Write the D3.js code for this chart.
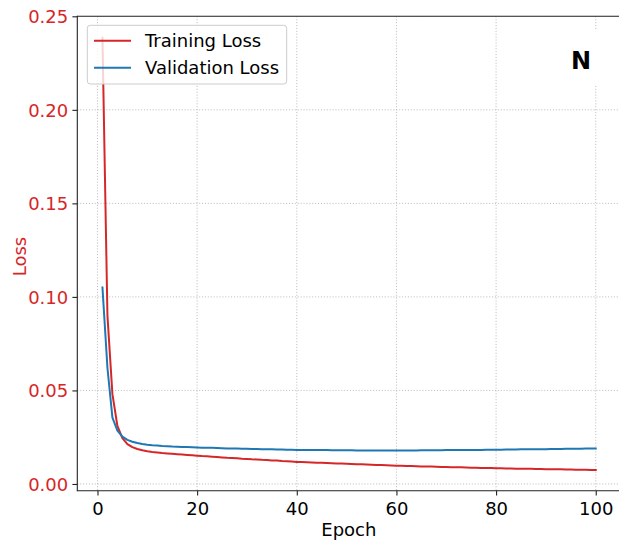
<!DOCTYPE html>
<html>
<head>
<meta charset="utf-8">
<script src="https://cdn.jsdelivr.net/npm/d3@7"></script>
<style>
  html, body { margin: 0; padding: 0; background: #fff; }
  svg { display: block; }
  text { font-family: "DejaVu Sans", sans-serif; }
</style>
</head>
<body>
<svg id="chart" width="619" height="547"></svg>
<script>
// Per-epoch losses, epochs 1..100
const epochs = d3.range(1, 101);

const trainingLoss = [
  0.2385, 0.0900, 0.0480, 0.0310, 0.0245, 0.0213, 0.0197, 0.0187, 0.0180, 0.0175,
  0.0171, 0.0168, 0.0165, 0.0163, 0.0161, 0.0159, 0.0157, 0.0155, 0.0153, 0.0151,
  0.0149, 0.0148, 0.0146, 0.0144, 0.0142, 0.0140, 0.0139, 0.0137, 0.0135, 0.0134,
  0.0132, 0.0131, 0.0129, 0.0128, 0.0126, 0.0125, 0.0123, 0.0122, 0.0120, 0.0118,
  0.0117, 0.0116, 0.0115, 0.0114, 0.0113, 0.0112, 0.0111, 0.0110, 0.0109, 0.0108,
  0.0107, 0.0106, 0.0105, 0.0104, 0.0103, 0.0102, 0.0101, 0.0100, 0.0099, 0.0098,
  0.0097, 0.0096, 0.0096, 0.0095, 0.0094, 0.0094, 0.0093, 0.0092, 0.0091, 0.0091,
  0.0090, 0.0089, 0.0089, 0.0088, 0.0087, 0.0087, 0.0086, 0.0085, 0.0085, 0.0084,
  0.0084, 0.0083, 0.0083, 0.0082, 0.0082, 0.0081, 0.0081, 0.0080, 0.0080, 0.0079,
  0.0079, 0.0078, 0.0078, 0.0077, 0.0077, 0.0076, 0.0076, 0.0076, 0.0075, 0.0075
];

const validationLoss = [
  0.1050, 0.0620, 0.0355, 0.0285, 0.0253, 0.0236, 0.0226, 0.0219, 0.0214, 0.0210,
  0.0207, 0.0205, 0.0203, 0.0202, 0.0200, 0.0199, 0.0198, 0.0197, 0.0196, 0.0195,
  0.0194, 0.0193, 0.0193, 0.0192, 0.0191, 0.0190, 0.0190, 0.0189, 0.0188, 0.0188,
  0.0187, 0.0187, 0.0186, 0.0185, 0.0185, 0.0184, 0.0184, 0.0183, 0.0183, 0.0182,
  0.0182, 0.0182, 0.0181, 0.0181, 0.0181, 0.0181, 0.0180, 0.0180, 0.0180, 0.0180,
  0.0180, 0.0179, 0.0179, 0.0179, 0.0179, 0.0179, 0.0179, 0.0179, 0.0179, 0.0179,
  0.0179, 0.0179, 0.0179, 0.0179, 0.0180, 0.0180, 0.0180, 0.0180, 0.0180, 0.0181,
  0.0181, 0.0181, 0.0181, 0.0182, 0.0182, 0.0182, 0.0182, 0.0183, 0.0183, 0.0183,
  0.0183, 0.0184, 0.0184, 0.0184, 0.0185, 0.0185, 0.0185, 0.0186, 0.0186, 0.0186,
  0.0187, 0.0187, 0.0187, 0.0188, 0.0188, 0.0188, 0.0188, 0.0189, 0.0189, 0.0189
];

const xTicks = [0, 20, 40, 60, 80, 100];
const yTicks = [0.00, 0.05, 0.10, 0.15, 0.20, 0.25];
const seriesNames = ["Training Loss", "Validation Loss"];
const seriesColors = ["#d62728", "#1f77b4"];
const panelLetter = "N";

const svg = d3.select("#chart");
const plot = { left: 77.3, right: 620.4, top: 16.3, bottom: 490.7 };

const x = d3.scaleLinear().domain([-4.05, 104.95]).range([plot.left, plot.right]);
const y = d3.scaleLinear().domain([-0.0036, 0.25]).range([plot.bottom, plot.top]);

const fontSize = 18;

svg.append("defs").append("clipPath").attr("id", "plotclip")
  .append("rect")
  .attr("x", plot.left).attr("y", plot.top)
  .attr("width", plot.right - plot.left).attr("height", plot.bottom - plot.top);

// dotted grid
const grid = svg.append("g").attr("clip-path", "url(#plotclip)");
grid.selectAll("line.gx").data(xTicks).join("line")
  .attr("x1", d => x(d)).attr("x2", d => x(d))
  .attr("y1", plot.top).attr("y2", plot.bottom)
  .attr("stroke", "#b0b0b0").attr("stroke-width", 0.8)
  .attr("stroke-dasharray", "1.1,1.8");
grid.selectAll("line.gy").data(yTicks).join("line")
  .attr("x1", plot.left).attr("x2", plot.right)
  .attr("y1", d => y(d)).attr("y2", d => y(d))
  .attr("stroke", "#b0b0b0").attr("stroke-width", 0.8)
  .attr("stroke-dasharray", "1.1,1.8");

// panel letter on a white box
const letterG = svg.append("g");
letterG.append("rect")
  .attr("x", 559).attr("y", 31).attr("width", 44).attr("height", 54)
  .attr("fill", "#fff");
letterG.append("text")
  .attr("x", 581).attr("y", 69.3)
  .attr("text-anchor", "middle")
  .attr("font-size", 24).attr("font-weight", "bold")
  .attr("fill", "#000")
  .text(panelLetter);

// loss curves
const line = d3.line().x((d, i) => x(epochs[i])).y(d => y(d));
const lines = svg.append("g").attr("clip-path", "url(#plotclip)");
[trainingLoss, validationLoss].forEach((s, k) => {
  lines.append("path")
    .datum(s)
    .attr("d", line)
    .attr("fill", "none")
    .attr("stroke", seriesColors[k])
    .attr("stroke-width", 2.0)
    .attr("stroke-linejoin", "round")
    .attr("stroke-linecap", "square");
});

// axes
const xAxis = d3.axisBottom(x).tickValues(xTicks).tickFormat(d3.format("d"))
  .tickSize(4.9).tickPadding(6.4);
const gx = svg.append("g").attr("transform", `translate(0,${plot.bottom})`).call(xAxis);
gx.select(".domain").remove();
gx.selectAll(".tick line").attr("stroke", "#222").attr("stroke-width", 1.1);
gx.selectAll(".tick text").attr("font-size", fontSize).attr("fill", "#000")
  .attr("font-family", "DejaVu Sans, sans-serif");

const yAxis = d3.axisLeft(y).tickValues(yTicks).tickFormat(d3.format(".2f"))
  .tickSize(4.9).tickPadding(4.2);
const gy = svg.append("g").attr("transform", `translate(${plot.left},0)`).call(yAxis);
gy.select(".domain").remove();
gy.selectAll(".tick line").attr("stroke", "#222").attr("stroke-width", 1.1);
gy.selectAll(".tick text").attr("font-size", fontSize).attr("fill", seriesColors[0])
  .attr("dy", "0.36em")
  .attr("font-family", "DejaVu Sans, sans-serif");

// spines
const sp = svg.append("g").attr("stroke", "#222").attr("stroke-width", 1.1).attr("fill", "none");
sp.append("line").attr("x1", plot.left).attr("x2", plot.left).attr("y1", plot.top - 0.5).attr("y2", plot.bottom + 0.5);
sp.append("line").attr("x1", plot.left).attr("x2", plot.right).attr("y1", plot.bottom).attr("y2", plot.bottom);
sp.append("line").attr("x1", plot.left).attr("x2", plot.right).attr("y1", plot.top).attr("y2", plot.top);
sp.append("line").attr("x1", plot.right).attr("x2", plot.right).attr("y1", plot.top).attr("y2", plot.bottom);

// axis labels
svg.append("text")
  .attr("x", (plot.left + plot.right) / 2).attr("y", 535.7)
  .attr("text-anchor", "middle").attr("font-size", fontSize).attr("fill", "#000")
  .text("Epoch");
svg.append("text")
  .attr("transform", `translate(25.5,256.5) rotate(-90)`)
  .attr("text-anchor", "middle").attr("font-size", fontSize).attr("fill", seriesColors[0])
  .text("Loss");

// legend
const lg = svg.append("g");
lg.append("rect")
  .attr("x", 87.3).attr("y", 25.3).attr("width", 199.4).attr("height", 58.7)
  .attr("rx", 3).attr("ry", 3)
  .attr("fill", "#fff").attr("fill-opacity", 0.8)
  .attr("stroke", "#cccccc").attr("stroke-width", 1);
seriesNames.forEach((name, k) => {
  const cy = 40.7 + k * 27;
  lg.append("line")
    .attr("x1", 94).attr("x2", 131).attr("y1", cy).attr("y2", cy)
    .attr("stroke", seriesColors[k]).attr("stroke-width", 2.0);
  lg.append("text")
    .attr("x", 145).attr("y", cy + 6.6)
    .attr("font-size", fontSize).attr("fill", "#000")
    .text(name);
});
</script>
</body>
</html>
